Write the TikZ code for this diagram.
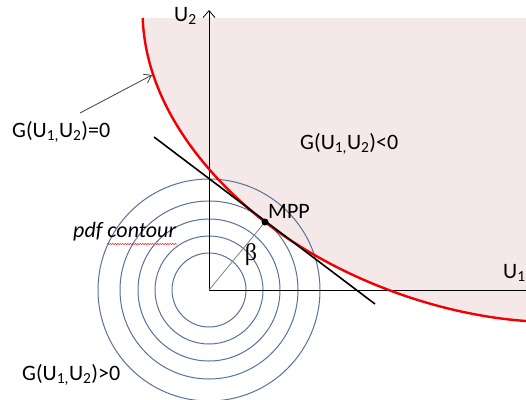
\documentclass[tikz,border=0pt]{standalone}
\usepackage{fontspec}
\setmainfont{Carlito}
\newfontfamily\greekserif{Liberation Serif}
\usetikzlibrary{arrows.meta,positioning,decorations.pathmorphing}
\definecolor{regionpink}{RGB}{245,232,232}
\definecolor{contourblue}{RGB}{88,114,152}
\definecolor{limitred}{RGB}{240,0,0}

\begin{document}
\begin{tikzpicture}[
          x=1pt, y=-1pt,
          lbl/.style={font=\fontsize{22}{26}\selectfont, inner sep=0pt, anchor=base west},
          contour/.style={draw=contourblue, line width=1pt},
          axis/.style={-{Straight Barb[length=7pt,width=12pt]}, line width=0.8pt}
        ]
        \useasboundingbox (0,0) rectangle (526,399);

        % Coordinates
        \coordinate (O) at (209,290);
        \coordinate (U2end) at (209,10);
        \coordinate (U1end) at (540,290);
        \coordinate (T1) at (154,137);
        \coordinate (T2) at (375,304);
        \coordinate (MPP) at (265,222);
        \def\limitpath{(142.7,18) .. controls (146,110) and (215,183) .. (MPP) .. controls (340,280) and (440,315) .. (526,321)}

        % Failure region
        \fill[regionpink] \limitpath -- (526,18) -- cycle;

        % pdf contours
        \foreach \r in {37,54,71,89,111}
          \draw[contour] (O) circle[radius=\r pt];

        % Axes
        \draw[axis] (O) -- (U2end);
        \draw[axis] (O) -- (U1end);

        % Limit state
        \draw[limitred, line width=2.4pt] \limitpath;

        % Tangent and reliability index
        \draw[line width=1.6pt] (T1) -- (T2);
        \draw[gray, line width=0.8pt] (O) -- (MPP);
        \fill (MPP) circle[radius=3.5pt];

        % Labels
        \node[lbl] (U2) at (174,21) {U\textsubscript{2}};
        \node[lbl] (U1) at (503,278) {U\textsubscript{1}};
        \node[lbl] (Gzero) at (12,137) {G(U\textsubscript{1,}U\textsubscript{2})=0};
        \node[lbl] (Gneg) at (300,149) {G(U\textsubscript{1,}U\textsubscript{2})<0};
        \node[lbl] (Gpos) at (22,380) {G(U\textsubscript{1,}U\textsubscript{2})>0};
        \node[lbl] (pdf) at (73,237) {\itshape pdf contour};
        \node[lbl] (MPPlbl) at (268,218) {MPP};
        \node[lbl, anchor=center, font=\fontsize{24}{28}\greekserif] (beta) at (251,255) {β};

        % Pointer to limit state
        \coordinate (Gtip) at (152,75);
        \draw[darkgray, line width=0.8pt, -{Straight Barb[length=7pt,width=10pt]}] (80,113) -- (Gtip);

        % Spell-check underline
        \draw[red!80, line width=0.5pt, decorate, decoration={snake, segment length=2.5pt, amplitude=0.8pt}] (107,244) -- (177,244);

      \end{tikzpicture}
\end{document}
